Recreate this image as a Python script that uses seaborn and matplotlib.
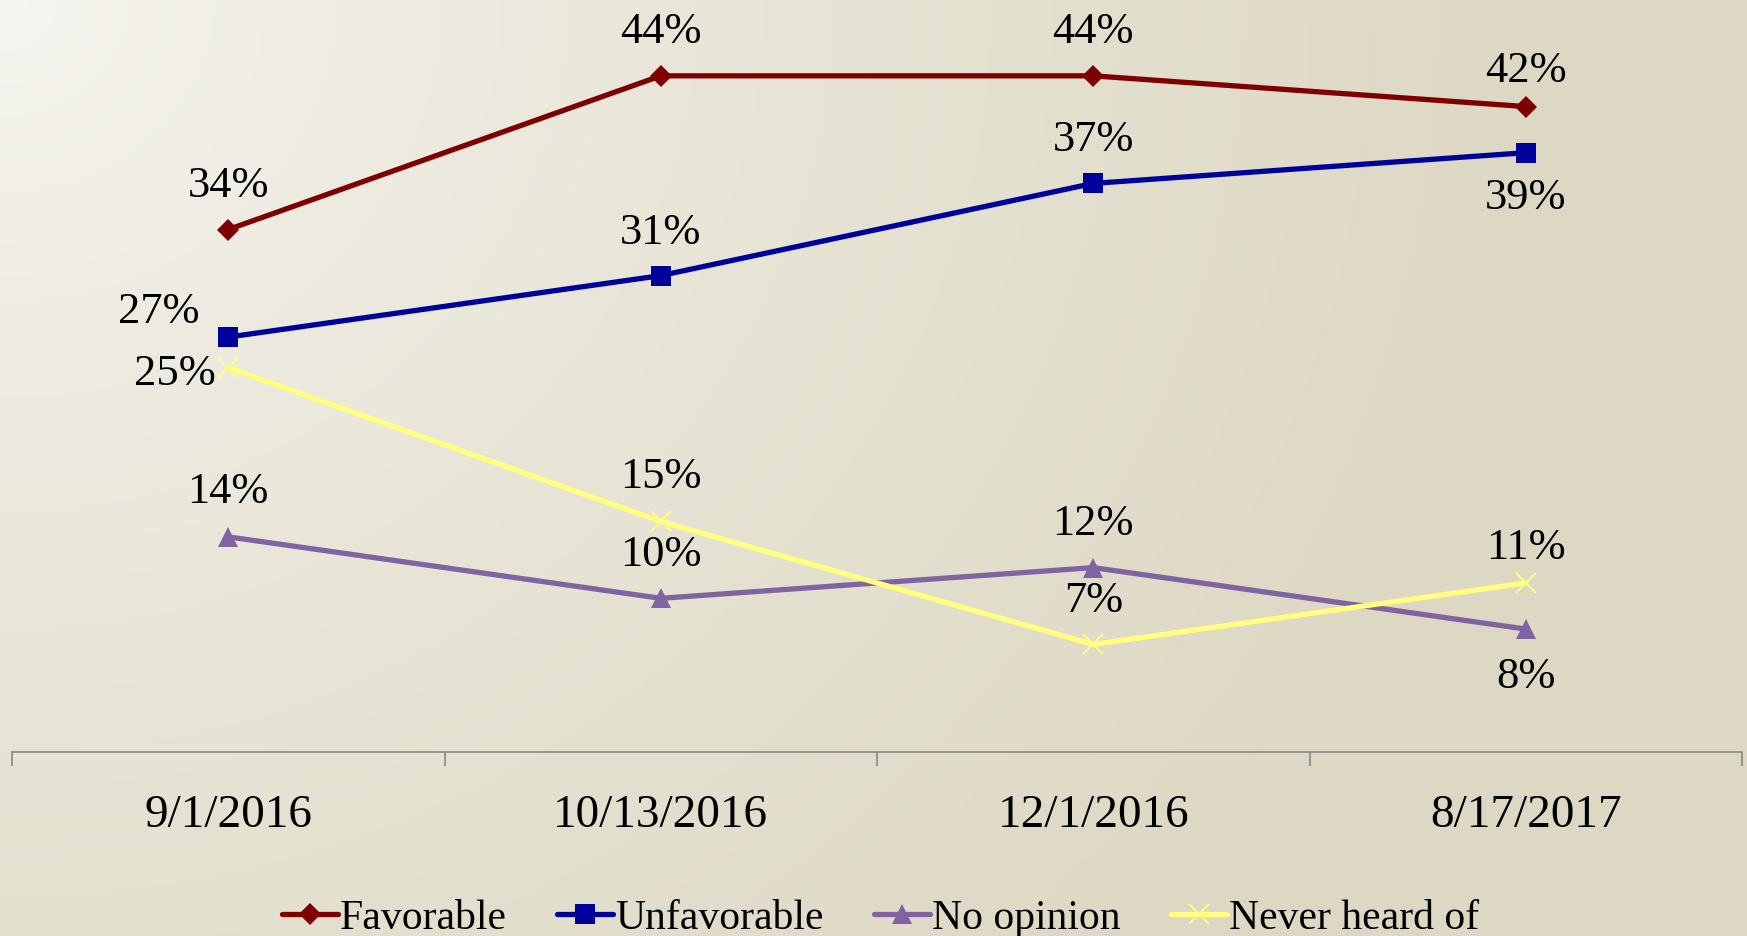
import numpy as np
import pandas as pd
import matplotlib
matplotlib.use('Agg')
import matplotlib.pyplot as plt
import seaborn as sns


dates = ['9/1/2016', '10/13/2016', '12/1/2016', '8/17/2017']
favorable = [34, 44, 44, 42]
unfavorable = [27, 31, 37, 39]
no_opinion = [14, 10, 12, 8]
never_heard = [25, 15, 7, 11]

series_names = ['Favorable', 'Unfavorable', 'No opinion', 'Never heard of']
series_values = [favorable, unfavorable, no_opinion, never_heard]
colors = ['#7F0000', '#00009B', '#8064A2', '#FFFF80']
markers = ['D', 's', '^', 'x']
marker_sizes = [11, 14, 15, 15]

# label offsets in pixels (dx, dy) per series/point
label_offsets = [
    [(0, 45), (0, 45), (0, 45), (0, 37)],
    [(-69, 26), (0, 44), (0, 44), (0, -44)],
    [(0, 46), (0, 44), (0, 45), (0, -47)],
    [(-53, -5), (0, 45), (0, 44), (0, 36)],
]

sns.set_theme(style='white')
plt.rcParams['font.family'] = ['Liberation Serif', 'DejaVu Serif']
plt.rcParams['text.color'] = 'black'
plt.rcParams['xtick.color'] = 'black'

fig = plt.figure(figsize=(17.47, 9.37), dpi=100)

# background gradient
bg = fig.add_axes([0, 0, 1, 1], zorder=-10)
H, W = 200, 400
yy, xx = np.mgrid[0:H, 0:W]
t = np.sqrt((xx / W) ** 2 + (yy / H) ** 2 * 0.35) / 0.9
t = np.clip(t, 0, 1) ** 0.8
c0 = np.array([246, 245, 240]) / 255
c1 = np.array([221, 216, 195]) / 255
img = c0[None, None, :] * (1 - t[..., None]) + c1[None, None, :] * t[..., None]
bg.imshow(img, aspect='auto', extent=[0, 1, 0, 1], origin='upper')
bg.axis('off')

ax = fig.add_axes([12 / 1747, (937 - 753) / 937, 1730 / 1747, 753 / 937])
ax.patch.set_alpha(0)

rows = []
for name, vals in zip(series_names, series_values):
    for d, v in zip(dates, vals):
        rows.append({'date': d, 'value': v, 'series': name})
df = pd.DataFrame(rows)

for name, col, mk, ms in zip(series_names, colors, markers, marker_sizes):
    sub = df[df['series'] == name]
    sns.lineplot(data=sub, x='date', y='value', ax=ax, color=col, marker=mk,
                 markersize=ms, linewidth=3.8, sort=False, label=name,
                 markeredgecolor=col, markeredgewidth=1.3 if mk == 'x' else 0)

for vals, offs in zip(series_values, label_offsets):
    for i, (v, (dx, dy)) in enumerate(zip(vals, offs)):
        ax.annotate(f'{v}%', (i, v), xytext=(dx, dy), textcoords='offset pixels',
                    ha='center', va='center', fontsize=32, color='black')

ax.set_xlim(-0.5, 3.5)
ax.set_ylim(0, 49)
ax.set_xticks(range(4))
ax.set_xticklabels(dates, fontsize=34, color='black')
ax.set_xticks(np.arange(-0.5, 4.0, 1.0), minor=True)
ax.tick_params(axis='x', which='major', length=0, pad=30)
ax.tick_params(axis='x', which='minor', length=10, width=1.2, color='#878787', bottom=True)
ax.set_yticks([])
ax.set_xlabel('')
ax.set_ylabel('')
for s in ['top', 'right', 'left']:
    ax.spines[s].set_visible(False)
ax.spines['bottom'].set_color('#878787')
ax.spines['bottom'].set_linewidth(1.2)

ax.get_legend().remove()
handles, labels = ax.get_legend_handles_labels()
leg = fig.legend(handles, labels, loc='center', bbox_to_anchor=(0.504, 0.019), ncol=4,
                 frameon=False, fontsize=30, handlelength=1.35, handletextpad=0.05,
                 columnspacing=1.2, borderpad=0, numpoints=1)
for txt in leg.get_texts():
    txt.set_color('black')

fig.savefig('out.png', dpi=100)
